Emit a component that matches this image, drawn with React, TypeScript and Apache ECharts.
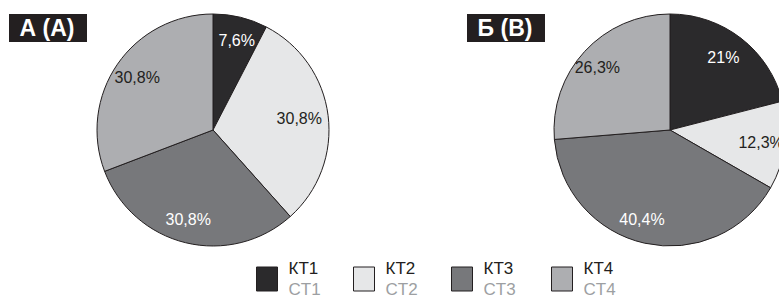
import React, { useEffect, useRef } from 'react';
import * as echarts from 'echarts';

const categories = ['КТ1', 'КТ2', 'КТ3', 'КТ4'];
const subLabels = ['CT1', 'CT2', 'CT3', 'CT4'];
const valuesA = [7.6, 30.8, 30.8, 30.8];
const valuesB = [21, 12.3, 40.4, 26.3];
const labelsA = ['7,6%', '30,8%', '30,8%', '30,8%'];
const labelsB = ['21%', '12,3%', '40,4%', '26,3%'];
const titles = ['А (A)', 'Б (B)'];

const FONT = '"Liberation Sans", Arial, Helvetica, sans-serif';
const colors = ['#2b2a2c', '#e6e7e8', '#77787b', '#adaeb1'];
const textColors = ['#ffffff', '#231f20', '#ffffff', '#231f20'];
const border = '#231f20';

export default function App() {
  const ref = useRef<HTMLDivElement>(null);
  useEffect(() => {
    if (!ref.current) return;
    const chart = echarts.init(ref.current, undefined, { renderer: 'svg' });
    const R = 116;
    const centers = [[213, 130], [670, 130]];
    const shiftsA = [[2, -8], [-5, 1], [-3, 1], [0, 5]];
    const shiftsB = [[-3, -10], [0, 3], [-8, 5], [-5, 3]];
    const pad = (s: number[]) => [
      s[1] > 0 ? 2 * s[1] : 0,
      s[0] < 0 ? -2 * s[0] : 0,
      s[1] < 0 ? -2 * s[1] : 0,
      s[0] > 0 ? 2 * s[0] : 0,
    ];
    const base = (center: number[], values: number[]) => ({
      type: 'pie',
      center,
      radius: R,
      startAngle: 90,
      clockwise: true,
      silent: true,
      emphasis: { disabled: true },
      label: { show: false },
      labelLine: { show: false },
      data: values.map((v, i) => ({
        name: categories[i],
        value: v,
        itemStyle: { color: colors[i], borderColor: border, borderWidth: 1 },
      })),
    });
    const labelSeries = (center: number[], values: number[], labels: string[], shifts: number[][]) => ({
      type: 'pie',
      center,
      radius: [62, R],
      startAngle: 90,
      clockwise: true,
      silent: true,
      emphasis: { disabled: true },
      itemStyle: { color: 'rgba(0,0,0,0)', borderWidth: 0 },
      labelLine: { show: false },
      data: values.map((v, i) => ({
        name: categories[i],
        value: v,
        label: {
          show: true,
          position: 'inside',
          formatter: labels[i],
          color: textColors[i],
          fontSize: 16,
          fontFamily: FONT,
          padding: pad(shifts[i]),
        },
      })),
    });
    const legendLefts = [256, 353, 451, 551];
    chart.setOption({
      animation: false,
      backgroundColor: '#ffffff',
      legend: categories.map((c, i) => ({
        data: [c],
        left: legendLefts[i],
        top: 260,
        padding: 0,
        itemWidth: 21,
        itemHeight: 24,
        icon: 'rect',
        selectedMode: false,
        itemStyle: { borderColor: border, borderWidth: 1 },
        formatter: (n: string) => `{a|${n}}\n{b|${subLabels[i]}}`,
        textStyle: {
          rich: {
            a: { fontSize: 17, color: '#231f20', lineHeight: 21, padding: [0, 0, 0, 6], fontFamily: FONT },
            b: { fontSize: 17, color: '#9d9fa2', lineHeight: 21, padding: [0, 0, 0, 6], fontFamily: FONT },
          },
        },
      })),
      graphic: [
        { type: 'rect', shape: { x: 9, y: 14, width: 78, height: 28 }, style: { fill: border } },
        { type: 'text', x: 47, y: 28, style: { text: titles[0], fill: '#fff', font: `bold 23px ${FONT}`, align: 'center', verticalAlign: 'middle' } },
        { type: 'rect', shape: { x: 467, y: 14, width: 78, height: 28 }, style: { fill: border } },
        { type: 'text', x: 505, y: 28, style: { text: titles[1], fill: '#fff', font: `bold 23px ${FONT}`, align: 'center', verticalAlign: 'middle' } },
      ],
      series: [
        base(centers[0], valuesA),
        base(centers[1], valuesB),
        labelSeries(centers[0], valuesA, labelsA, shiftsA),
        labelSeries(centers[1], valuesB, labelsB, shiftsB),
      ],
    });
    return () => chart.dispose();
  }, []);
  return <div ref={ref} style={{ position: 'absolute', left: 0, top: 0, width: 779, height: 297 }} />;
}
